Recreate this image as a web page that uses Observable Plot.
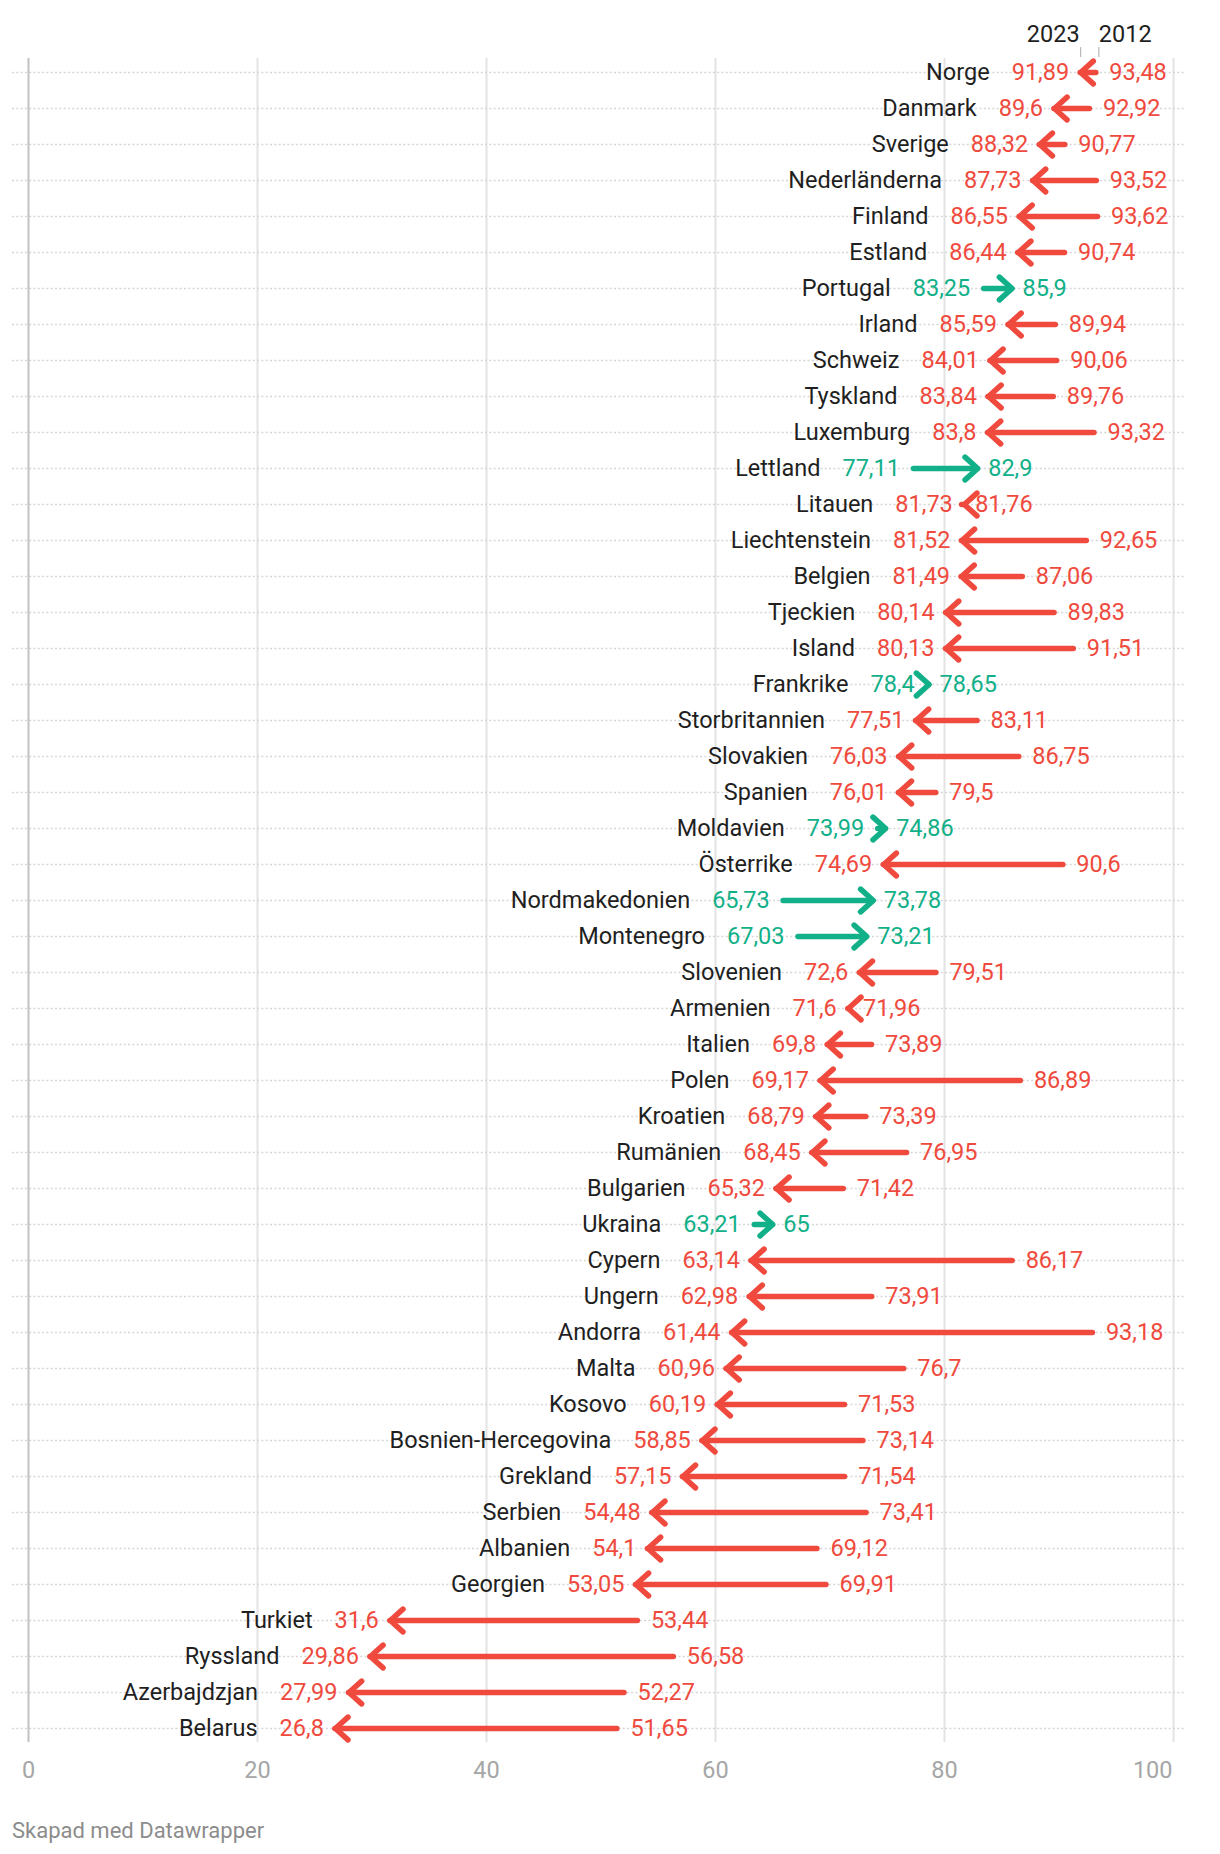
<!DOCTYPE html>
<html>
<head>
<meta charset="utf-8">
<script src="https://cdn.jsdelivr.net/npm/d3@7"></script>
<script src="https://cdn.jsdelivr.net/npm/@observablehq/plot@0.6"></script>
<style>
  body { margin: 0; background: #fff; font-family: Roboto, sans-serif; }
  #chart svg { display: block; overflow: visible; }
  #footer { padding: 18px 0 0 12px; font-size: 22px; line-height: 26px; color: #8c8c8c; font-family: Roboto, sans-serif; }
</style>
</head>
<body>
<div id="chart"></div>
<div id="footer">Skapad med Datawrapper</div>
<script>
const countries = ["Norge","Danmark","Sverige","Nederländerna","Finland","Estland","Portugal","Irland","Schweiz","Tyskland","Luxemburg","Lettland","Litauen","Liechtenstein","Belgien","Tjeckien","Island","Frankrike","Storbritannien","Slovakien","Spanien","Moldavien","Österrike","Nordmakedonien","Montenegro","Slovenien","Armenien","Italien","Polen","Kroatien","Rumänien","Bulgarien","Ukraina","Cypern","Ungern","Andorra","Malta","Kosovo","Bosnien-Hercegovina","Grekland","Serbien","Albanien","Georgien","Turkiet","Ryssland","Azerbajdzjan","Belarus"];
const values2023 = [91.89,89.6,88.32,87.73,86.55,86.44,85.9,85.59,84.01,83.84,83.8,82.9,81.73,81.52,81.49,80.14,80.13,78.65,77.51,76.03,76.01,74.86,74.69,73.78,73.21,72.6,71.6,69.8,69.17,68.79,68.45,65.32,65,63.14,62.98,61.44,60.96,60.19,58.85,57.15,54.48,54.1,53.05,31.6,29.86,27.99,26.8];
const values2012 = [93.48,92.92,90.77,93.52,93.62,90.74,83.25,89.94,90.06,89.76,93.32,77.11,81.76,92.65,87.06,89.83,91.51,78.4,83.11,86.75,79.5,73.99,90.6,65.73,67.03,79.51,71.96,73.89,86.89,73.39,76.95,71.42,63.21,86.17,73.91,93.18,76.7,71.53,73.14,71.54,73.41,69.12,69.91,53.44,56.58,52.27,51.65];
const yearLabels = ["2023", "2012"];
const xTicks = [0, 20, 40, 60, 80, 100];
const directions = ["ned", "upp"];
const red = "#ef4a3d", green = "#12b088";

const fmt = v => String(v).replace(".", ",");
const data = countries.map((land, i) => {
  const v23 = values2023[i], v12 = values2012[i];
  return {land, v23, v12, lo: Math.min(v23, v12), hi: Math.max(v23, v12), dir: v23 >= v12 ? "upp" : "ned"};
});
const header = [
  {yr: yearLabels[0], v: values2023[0], land: countries[0]},
  {yr: yearLabels[1], v: values2012[0], land: countries[0]}
];

// chevron arrowhead symbol, tip at origin pointing right
const chevron = {
  draw(ctx, size) {
    const r = Math.sqrt(size / Math.PI);
    const a = r * Math.cos(0.73), b = r * Math.sin(0.73);
    ctx.moveTo(-a, -b);
    ctx.lineTo(0, 0);
    ctx.lineTo(-a, b);
  }
};

const FS = 23.5;
const lineOpts = {y: "land", x1: "v12", x2: "v23", stroke: "dir", strokeWidth: 5.5, strokeLinecap: "round"};
const svg = Plot.plot({
  width: 1220,
  height: 1800,
  marginLeft: 28,
  marginRight: 47,
  marginTop: 54,
  marginBottom: 54,
  style: {fontFamily: "Roboto, sans-serif", fontSize: FS + "px", background: "#fff", color: "#1f1f1f"},
  x: {domain: [0, 100], label: null},
  y: {type: "band", domain: countries, padding: 0, axis: null, label: null},
  color: {domain: directions, range: [red, green]},
  marks: [
    Plot.ruleX(xTicks.slice(1), {stroke: "#e3e3e3", strokeWidth: 2, insetTop: 4, insetBottom: 4}),
    Plot.ruleY(countries, {y: d => d, insetLeft: -16, insetRight: -13, stroke: "#d6d6d6", strokeWidth: 1.5, strokeDasharray: "2,2.3"}),
    Plot.ruleX(xTicks.slice(0, 1), {stroke: "#c2c2c2", strokeWidth: 2, insetTop: 4, insetBottom: 4}),
    Plot.ruleY(data, {...lineOpts, filter: d => d.dir === "ned", insetLeft: -2.5}),
    Plot.ruleY(data, {...lineOpts, filter: d => d.dir === "upp", insetLeft: 2.5}),
    Plot.dot(data, {x: "v23", y: "land", r: 17, symbol: chevron, rotate: d => d.dir === "ned" ? 180 : 0, stroke: "dir", fill: "none", strokeWidth: 5.5, strokeLinecap: "round", strokeLinejoin: "round"}),
    Plot.text(data, {x: "lo", y: "land", text: d => fmt(d.lo), textAnchor: "end", dx: -11.5, fill: "dir", fontSize: FS}),
    Plot.text(data, {x: "hi", y: "land", text: d => fmt(d.hi), textAnchor: "start", dx: 10.5, fill: "dir", fontSize: FS}),
    Plot.text(data, {x: "lo", y: "land", text: "land", textAnchor: "end", dx: -33.5, fill: "#1f1f1f", fontSize: FS}),
    Plot.tickX(header, {x: "v", y: "land", dy: -33, insetTop: 26, stroke: "#b8b8b8", strokeWidth: 1.2}),
    Plot.text(header.slice(0, 1), {x: "v", y: "land", text: "yr", textAnchor: "end", dx: -1, dy: -38, fill: "#1f1f1f", fontSize: FS}),
    Plot.text(header.slice(1), {x: "v", y: "land", text: "yr", textAnchor: "start", dx: 0, dy: -38, fill: "#1f1f1f", fontSize: FS}),
    Plot.axisX(xTicks.slice(0, 5), {tickSize: 0, tickPadding: 15, fontSize: FS, fill: "#a6a6a6", label: null}),
    Plot.axisX(xTicks.slice(5), {tickSize: 0, tickPadding: 15, fontSize: FS, fill: "#a6a6a6", textAnchor: "end", dx: -1, label: null})
  ]
});
document.getElementById("chart").append(svg);

// shift each country name left by the width of its value label
const groups = [...svg.querySelectorAll('g[aria-label="text"]')];
const countryG = groups.find(g => g.children.length === countries.length && g.firstElementChild.textContent === countries[0]);
const leftG = groups.find(g => g.children.length === countries.length && g.firstElementChild.textContent === fmt(data[0].lo));
if (countryG && leftG) {
  for (let i = 0; i < countries.length; i++) {
    const w = leftG.children[i].getComputedTextLength();
    const t = countryG.children[i];
    const tr = t.getAttribute("transform") || "";
    t.setAttribute("transform", (tr + ` translate(${-w},0)`).trim());
  }
}
</script>
</body>
</html>
